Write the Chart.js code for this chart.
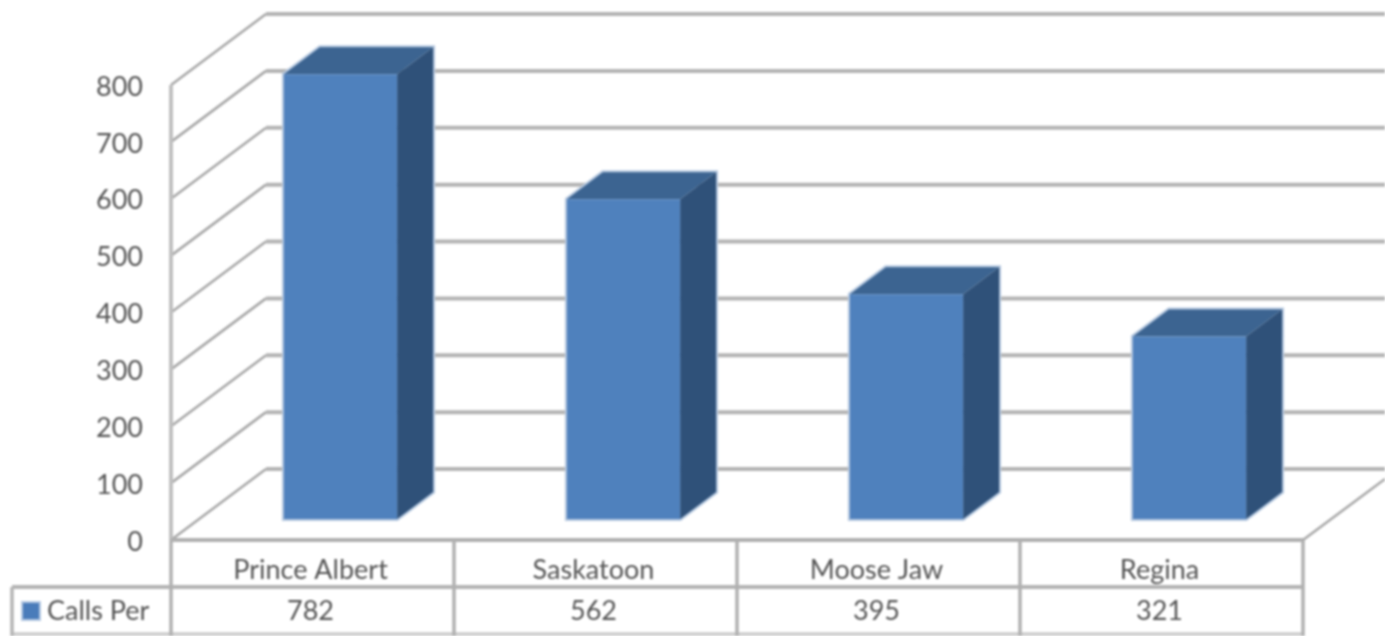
<!DOCTYPE html>
<html>
<head>
<meta charset="utf-8">
<title>Calls Per</title>
<script src="https://cdn.jsdelivr.net/npm/chart.js@4"></script>
<style>
  html, body { margin: 0; padding: 0; background: #fff; overflow: hidden; }
  #chart { display: block; filter: blur(1px); }
</style>
</head>
<body>
<canvas id="chart" width="1385" height="636"></canvas>
<script>
var categories = ['Prince Albert', 'Saskatoon', 'Moose Jaw', 'Regina'];
var callsPer = [782, 562, 395, 321];
var seriesName = 'Calls Per';

var yMax = 800;
var yStep = 100;

/* ---- 3D look: how far the back wall and the bars sit behind the front plane ---- */
var WALL_DX = 95, WALL_DY = -71;
var BAR_SHIFT_X = 28, BAR_SHIFT_Y = -21;
var BAR_DX = 36, BAR_DY = -27;
var ROW_1 = 587, ROW_2 = 634, TABLE_LEFT = 12;
var FONT = '"Lato", "Open Sans", sans-serif';
var TEXT = '#555555';

function line(ctx, x1, y1, x2, y2, color, width) {
  ctx.strokeStyle = color;
  ctx.lineWidth = width;
  ctx.beginPath();
  ctx.moveTo(x1, y1);
  ctx.lineTo(x2, y2);
  ctx.stroke();
}

function poly(ctx, pts, fill, stroke, width) {
  ctx.beginPath();
  pts.forEach(function (p, i) { if (i) ctx.lineTo(p[0], p[1]); else ctx.moveTo(p[0], p[1]); });
  ctx.closePath();
  if (stroke) { ctx.strokeStyle = stroke; ctx.lineWidth = width; ctx.stroke(); }
  if (fill) { ctx.fillStyle = fill; ctx.fill(); }
}

var wallsAndTable = {
  id: 'wallsAndTable',
  beforeDatasetsDraw: function (chart) {
    var ctx = chart.ctx, xs = chart.scales.x, ys = chart.scales.y;
    var left = xs.left, right = xs.right, floor = ys.getPixelForValue(0);
    ctx.save();

    // gridlines: side wall diagonal plus back wall run
    ys.ticks.forEach(function (t) {
      var y = ys.getPixelForValue(t.value);
      line(ctx, left, y, left + WALL_DX, y + WALL_DY, '#a8a8a8', 2.6);
      line(ctx, left + WALL_DX, y + WALL_DY, chart.width, y + WALL_DY, '#b4b4b4', 4);
    });
    line(ctx, left, ys.getPixelForValue(yMax), left, floor, '#c0c0c0', 4);
    line(ctx, right, floor, right + 82, floor - 61, '#a8a8a8', 2.6);

    // data table
    line(ctx, left, floor, right, floor, '#b0b0b0', 4);
    line(ctx, TABLE_LEFT, ROW_1, right, ROW_1, '#b4b4b4', 4);
    line(ctx, TABLE_LEFT, ROW_2, right, ROW_2, '#cccccc', 3.5);
    line(ctx, TABLE_LEFT, ROW_1, TABLE_LEFT, chart.height, '#b4b4b4', 3.5);
    line(ctx, left, floor, left, chart.height, '#b0b0b0', 3.5);
    var cell = (right - left) / categories.length;
    categories.forEach(function (c, i) {
      var x = xs.getPixelForTick(i) + cell / 2;
      line(ctx, x, floor, x, chart.height, '#b0b0b0', 3.5);
    });

    // legend key inside the table
    ctx.fillStyle = '#b4c8e2';
    ctx.fillRect(21, 601, 20, 20);
    ctx.fillStyle = '#4a7cba';
    ctx.fillRect(23, 603, 16, 16);
    ctx.fillStyle = TEXT;
    ctx.font = '27px ' + FONT;
    ctx.textAlign = 'left';
    ctx.textBaseline = 'middle';
    ctx.fillText(seriesName, 47, 611);
    ctx.restore();
  },
  beforeDatasetDraw: function (chart, args) {
    var ctx = chart.ctx;
    ctx.save();
    ctx.translate(BAR_SHIFT_X, BAR_SHIFT_Y);
    args.meta.data.forEach(function (bar) {
      var p = bar.getProps(['x', 'y', 'base', 'width'], true);
      var l = p.x - p.width / 2, r = p.x + p.width / 2, t = p.y, b = p.base;
      var outline = [[l, b], [l, t], [l + BAR_DX, t + BAR_DY], [r + BAR_DX, t + BAR_DY], [r + BAR_DX, b + BAR_DY], [r, b]];
      poly(ctx, outline, null, '#b7c9e0', 4);
      poly(ctx, [[l, t], [l + BAR_DX, t + BAR_DY], [r + BAR_DX, t + BAR_DY], [r, t]], '#3c6491');
      poly(ctx, [[r, t], [r + BAR_DX, t + BAR_DY], [r + BAR_DX, b + BAR_DY], [r, b]], '#2f5179');
    });
  },
  afterDatasetDraw: function (chart) {
    chart.ctx.restore();
  }
};

new Chart(document.getElementById('chart'), {
  type: 'bar',
  data: {
    labels: categories.map(function (c, i) { return [c, String(callsPer[i])]; }),
    datasets: [{
      label: seriesName,
      data: callsPer,
      backgroundColor: '#4f81bd',
      barPercentage: 0.4,
      categoryPercentage: 1,
      clip: false
    }]
  },
  options: {
    responsive: false,
    animation: false,
    layout: { padding: { top: 85, right: 82, left: 0, bottom: 0 } },
    plugins: { legend: { display: false }, tooltip: { enabled: false } },
    scales: {
      x: {
        grid: { display: false },
        border: { display: false },
        afterFit: function (s) { s.height = 96; },
        ticks: {
          color: TEXT,
          padding: 2,
          maxRotation: 0,
          labelOffset: -2,
          font: { family: FONT, size: 27, lineHeight: 1.52 }
        }
      },
      y: {
        min: 0,
        max: yMax,
        grid: { display: false },
        border: { display: false },
        afterFit: function (s) { s.width = 171; },
        ticks: {
          stepSize: yStep,
          color: TEXT,
          padding: 20,
          labelOffset: 2,
          font: { family: FONT, size: 27 }
        }
      }
    }
  },
  plugins: [wallsAndTable]
});
</script>
</body>
</html>
